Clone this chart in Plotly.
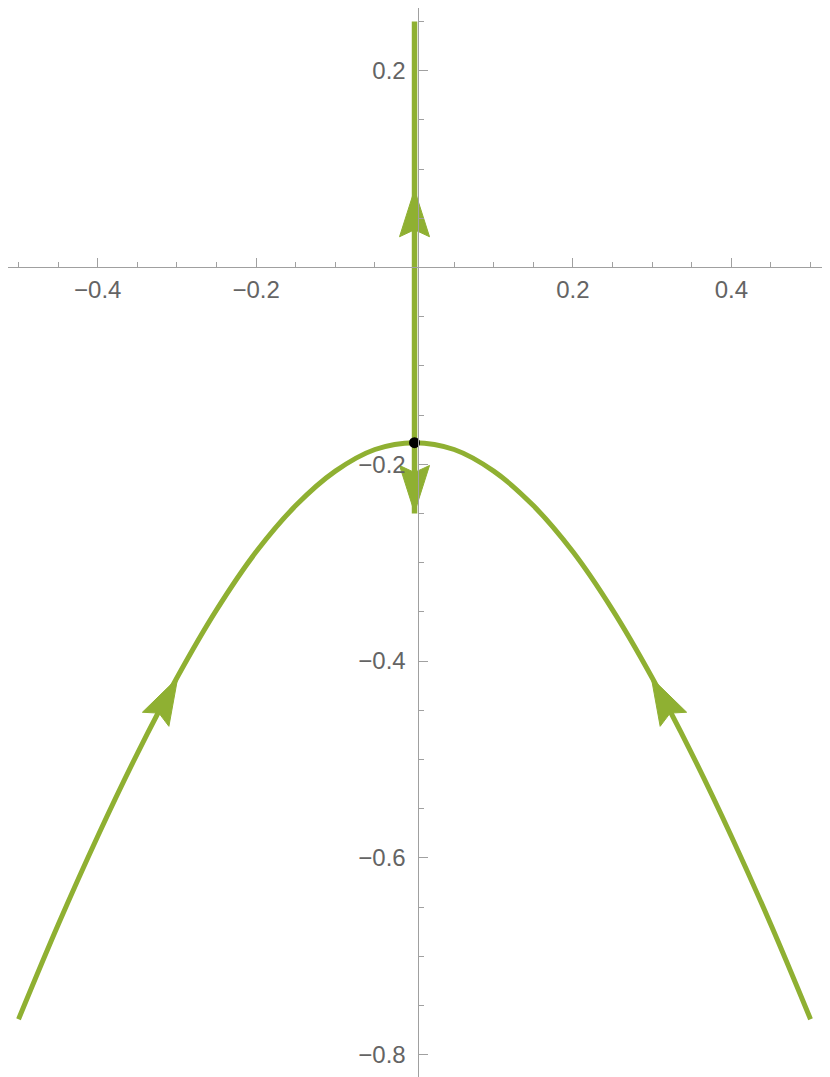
import numpy as np
import plotly.graph_objects as go

# curve (symmetric about x = 0)
curve_x = [-0.5, -0.45, -0.4, -0.35, -0.3, -0.25, -0.2, -0.15, -0.1, -0.05, 0.0,
           0.05, 0.1, 0.15, 0.2, 0.25, 0.3, 0.35, 0.4, 0.45, 0.5]
curve_y = [-0.764, -0.668, -0.578, -0.494, -0.417, -0.348, -0.289, -0.242, -0.207, -0.185, -0.178,
           -0.185, -0.207, -0.242, -0.289, -0.348, -0.417, -0.494, -0.578, -0.668, -0.764]

# vertical separatrix on x = 0
stem_x = [0.0, 0.0]
stem_y = [0.25, -0.25]

# fixed point
point_x = [0.0]
point_y = [-0.178]

# arrow tips and screen directions (degrees)
arrow_x = [0.0, 0.0, -0.299, 0.299]
arrow_y = [0.079, -0.249, -0.417, -0.417]
arrow_ang = [90, -90, 62, 118]

x_major = [-0.4, -0.2, 0.2, 0.4]
x_labels = ["\u22120.4", "\u22120.2", "0.2", "0.4"]
y_major = [0.2, -0.2, -0.4, -0.6, -0.8]
y_labels = ["0.2", "\u22120.2", "\u22120.4", "\u22120.6", "\u22120.8"]
x_minor = [-0.5, -0.45, -0.35, -0.3, -0.25, -0.15, -0.1, -0.05, 0.05, 0.1, 0.15, 0.25, 0.3, 0.35, 0.45, 0.5]
y_minor = [0.25, 0.15, 0.1, 0.05, -0.05, -0.1, -0.15, -0.25, -0.3, -0.35, -0.45, -0.5, -0.55,
           -0.65, -0.7, -0.75]

# page body has an 8px margin, so the figure is a bit smaller than the window
W, H = 822, 1069
ML, MR, MT, MB = 0, 3, 0, 0
xr = [-0.5133, 0.5208]
yr = [-0.8227, 0.2637]
sx = (W - ML - MR) / (xr[1] - xr[0])
sy = (H - MT - MB) / (yr[1] - yr[0])

green = "rgb(143,176,50)"
grey_line = "rgb(160,160,160)"
grey_text = "rgb(100,100,100)"

fig = go.Figure()
fig.add_trace(go.Scatter(x=curve_x, y=curve_y, mode="lines", line=dict(color=green, width=5, shape="spline"),
                         hoverinfo="skip"))
fig.add_trace(go.Scatter(x=stem_x, y=stem_y, mode="lines", line=dict(color=green, width=5.5), hoverinfo="skip"))

# arrowheads: length 47px, half width 15px, notch 7px
head = [(0, 0), (-47, 15), (-40, 0), (-47, -15), (0, 0)]
for ax_, ay_, ang in zip(arrow_x, arrow_y, arrow_ang):
    t = np.radians(ang)
    u = np.array([np.cos(t), np.sin(t)])
    v = np.array([-np.sin(t), np.cos(t)])
    px = [ax_ + (a * u[0] + b * v[0]) / sx for a, b in head]
    py = [ay_ + (a * u[1] + b * v[1]) / sy for a, b in head]
    fig.add_trace(go.Scatter(x=px, y=py, mode="lines", fill="toself", fillcolor=green,
                             line=dict(color=green, width=1), hoverinfo="skip"))

fig.add_trace(go.Scatter(x=point_x, y=point_y, mode="markers", marker=dict(color="black", size=11),
                         hoverinfo="skip"))

fig.update_layout(
    width=W, height=H,
    margin=dict(l=ML, r=MR, t=MT, b=MB),
    plot_bgcolor="white", paper_bgcolor="white",
    showlegend=False,
    font=dict(family="Liberation Sans", size=24, color=grey_text),
    xaxis=dict(range=xr, showgrid=False, zeroline=False, showline=True, linecolor=grey_line, linewidth=1,
               anchor="free", position=(0 - yr[0]) / (yr[1] - yr[0]),
               tickvals=x_major, ticktext=x_labels, ticks="inside", ticklen=9, tickcolor=grey_line,
               minor=dict(tickvals=x_minor, ticks="inside", ticklen=5, tickcolor=grey_line),
               ticklabelstandoff=1),
    yaxis=dict(range=yr, showgrid=False, zeroline=False, showline=True, linecolor=grey_line, linewidth=1,
               anchor="free", position=0.5,
               tickvals=y_major, ticktext=y_labels, ticks="inside", ticklen=9, tickcolor=grey_line,
               minor=dict(tickvals=y_minor, ticks="inside", ticklen=5, tickcolor=grey_line),
               ticklabelstandoff=7),
)

fig.write_html("out.html")
